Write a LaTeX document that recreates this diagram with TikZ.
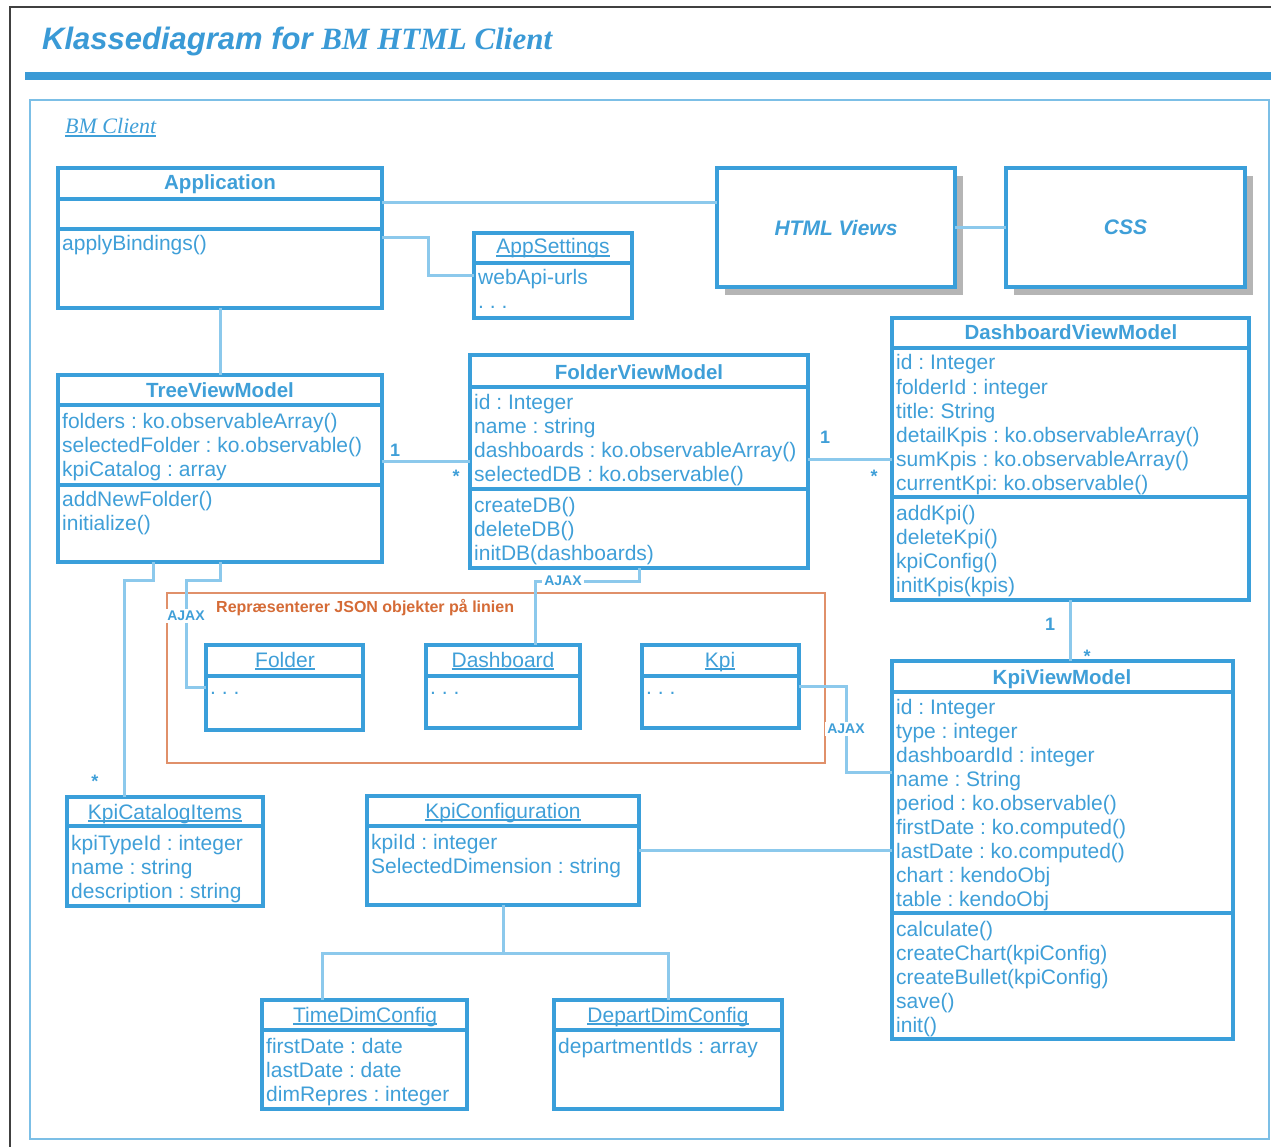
\documentclass[tikz,border=0pt]{standalone}
\usepackage{fontspec}
\setmainfont{Liberation Sans}
\newfontfamily\serifx{Liberation Serif}
\usetikzlibrary{shadows}
\frenchspacing

\definecolor{titlec}{HTML}{3A9AD6}
\definecolor{boxc}{HTML}{3A9FDA}
\definecolor{ink}{HTML}{3F9FD8}
\definecolor{linec}{HTML}{8CC9EC}
\definecolor{framec}{HTML}{7CBFE6}
\definecolor{orangec}{HTML}{E0906A}
\definecolor{orangetxt}{HTML}{D56B36}
\definecolor{shadowc}{HTML}{B5B5B5}

% underline sitting just below the baseline
\newcommand\ulname[1]{\setbox0\hbox{#1}\rlap{\rule[-2.6pt]{\wd0}{1.3pt}}\box0}

\tikzset{
  box/.style={draw=boxc, line width=3.2pt, fill=white, rectangle, inner sep=0pt,
    outer sep=0pt, anchor=north west},
  shadowbox/.style={box, general shadow={fill=shadowc, shadow xshift=8pt, shadow yshift=-8pt}},
  boxline/.style={draw=boxc, line width=3.2pt},
  conn/.style={draw=linec, line width=3pt},
  txt/.style={text=ink, font=\fontsize{21}{24}\selectfont, inner sep=0pt, anchor=base west},
  hdr/.style={text=ink, font=\fontsize{20.5}{24}\selectfont\bfseries, inner sep=0pt, anchor=base},
  obj/.style={text=ink, font=\fontsize{21}{24}\selectfont, inner sep=0pt, anchor=base},
  ajax/.style={text=ink, fill=white, font=\fontsize{14}{14}\selectfont\bfseries, inner sep=2pt},
  mult/.style={text=ink, font=\fontsize{18}{18}\selectfont\bfseries, inner sep=0pt},
}

% class box: name, x1, y1, x2, y2
\newcommand\umlbox[5]{\node[box, minimum width={#4-#2}, minimum height={#5-#3}] (#1) at (#2,#3) {};}
% compartment separator: box name, y
\newcommand\compsep[2]{\draw[boxline] (#1.west |- 0,#2) -- (#1.east |- 0,#2);}
% text lines: prefix, x, first baseline, list
\newcommand\textlines[4]{\foreach \t [count=\i from 0] in {#4} {\node[txt] (#1\i) at (#2,{#3+24*\i}) {\t};}}

\begin{document}
\begin{tikzpicture}[x=1pt,y=-1pt]
\useasboundingbox (0,0) rectangle (1271,1147);
\fill[white] (0,0) rectangle (1271,1147);

% page frame, title and rule
\draw[draw=black!75, line width=1.5pt] (10,1150) -- (10,7) -- (1275,7);
\node[anchor=base west, text=titlec, inner sep=0pt] (title) at (42,50)
  {\fontsize{31}{31}\selectfont\bfseries\itshape Klassediagram for {\serifx BM HTML Client}};
\fill[titlec] (25,72) rectangle (1275,80);

% package frame
\draw[draw=framec, line width=2.5pt] (30,100) rectangle (1269,1139);
\node[anchor=base west, text=ink, inner sep=0pt] (pkg) at (65,134)
  {\fontsize{22}{22}\selectfont\serifx\itshape\ulname{BM Client}};

% JSON object region
\draw[draw=orangec, line width=2.5pt] (167,593) rectangle (825,763);
\node[anchor=base west, text=orangetxt, inner sep=0pt] (jsonnote) at (216,612)
  {\fontsize{16}{16}\selectfont\bfseries Repræsenterer JSON objekter på linien};

% ---------- boxes ----------
\umlbox{app}{58}{168}{382}{308}
\compsep{app}{199} \compsep{app}{229}
\node[hdr] (apph) at (220,190) {Application};
\textlines{appm}{62}{251}{applyBindings()}

\umlbox{appset}{474}{233}{632}{318}
\compsep{appset}{263}
\node[obj] (appseth) at (553,254) {\ulname{AppSettings}};
\textlines{appseta}{478}{285}{webApi-urls,. . .}

\node[shadowbox, minimum width=238, minimum height=119] (html) at (717,168) {};
\node[text=ink, font=\fontsize{21}{24}\selectfont\bfseries\itshape] (htmlt) at (html.center) {HTML Views};
\node[shadowbox, minimum width=239, minimum height=119] (css) at (1006,168) {};
\node[text=ink, font=\fontsize{21}{24}\selectfont\bfseries\itshape] (csst) at (css.center) {CSS};

\umlbox{tree}{58}{375}{382}{562}
\compsep{tree}{405} \compsep{tree}{485}
\node[hdr] (treeh) at (220,397) {TreeViewModel};
\textlines{treea}{62}{428}{folders : ko.observableArray(),selectedFolder : ko.observable(),kpiCatalog : array}
\textlines{treem}{62}{506}{addNewFolder(),initialize()}

\umlbox{fold}{470}{355}{808}{568}
\compsep{fold}{387} \compsep{fold}{489}
\node[hdr] (foldh) at (639,379) {FolderViewModel};
\textlines{folda}{474}{409}{id : Integer,name : string,dashboards : ko.observableArray(),selectedDB : ko.observable()}
\textlines{foldm}{474}{512}{createDB(),deleteDB(),initDB(dashboards)}

\umlbox{dash}{892}{318}{1249}{600}
\compsep{dash}{348} \compsep{dash}{497}
\node[hdr] (dashh) at (1071,340) {DashboardViewModel};
\textlines{dasha}{896}{370}{id : Integer,folderId : integer,title: String,detailKpis : ko.observableArray(),sumKpis : ko.observableArray(),currentKpi: ko.observable()}
\textlines{dashm}{896}{520}{addKpi(),deleteKpi(),kpiConfig(),initKpis(kpis)}

\umlbox{kvm}{892}{661}{1233}{1039}
\compsep{kvm}{692} \compsep{kvm}{913}
\node[hdr] (kvmh) at (1062,684) {KpiViewModel};
\textlines{kvma}{896}{714}{id : Integer,type : integer,dashboardId : integer,name : String,period : ko.observable(),firstDate : ko.computed(),lastDate : ko.computed(),chart : kendoObj,table : kendoObj}
\textlines{kvmm}{896}{936}{calculate(),createChart(kpiConfig),createBullet(kpiConfig),save(),init()}

\umlbox{folderobj}{206}{645}{363}{730}
\compsep{folderobj}{676}
\node[obj] (folderobjh) at (285,667) {\ulname{Folder}};
\textlines{folderobja}{210}{694}{. . .}

\umlbox{dashobj}{426}{645}{580}{728}
\compsep{dashobj}{676}
\node[obj] (dashobjh) at (503,667) {\ulname{Dashboard}};
\textlines{dashobja}{430}{694}{. . .}

\umlbox{kpiobj}{642}{645}{799}{728}
\compsep{kpiobj}{676}
\node[obj] (kpiobjh) at (720,667) {\ulname{Kpi}};
\textlines{kpiobja}{646}{694}{. . .}

\umlbox{cat}{67}{797}{263}{906}
\compsep{cat}{826}
\node[obj] (cath) at (165,819) {\ulname{KpiCatalogItems}};
\textlines{cata}{71}{850}{kpiTypeId : integer,name : string,description : string}

\umlbox{conf}{367}{796}{639}{905}
\compsep{conf}{826}
\node[obj] (confh) at (503,818) {\ulname{KpiConfiguration}};
\textlines{confa}{371}{849}{kpiId : integer,SelectedDimension : string}

\umlbox{time}{262}{1000}{467}{1109}
\compsep{time}{1030}
\node[obj] (timeh) at (365,1022) {\ulname{TimeDimConfig}};
\textlines{timea}{266}{1053}{firstDate : date,lastDate : date,dimRepres : integer}

\umlbox{dept}{554}{1000}{782}{1109}
\compsep{dept}{1030}
\node[obj] (depth) at (668,1022) {\ulname{DepartDimConfig}};
\textlines{depta}{558}{1053}{departmentIds : array}

% ---------- connectors ----------
\draw[conn] ([yshift=-35pt]app.north east) -- ([yshift=-35pt]html.north west);
\draw[conn] (html.east) -- (css.west);
\draw[conn] ([yshift=-70pt]app.north east) -- ++(46,0) |- (appset.west);
\draw[conn] (app.south) -- (tree.north);
\draw[conn] (tree.east |- fold.west) -- (fold.west);
\draw[conn] (fold.east |- dash.west) -- (dash.west);
\draw[conn] (dash.south) -- (dash.south |- kvm.north);
\draw[conn] (tree.south) -- ++(0,18) -| ([xshift=-20pt]folderobj.west) -- (folderobj.west);
\draw[conn] ([xshift=-67pt]tree.south) -- ++(0,18) -| ([xshift=-41pt]cat.north);
\draw[conn] (fold.south) -- ++(0,13) -| ([xshift=32pt]dashobj.north);
\draw[conn] (kpiobj.east) -- ++(47,0) |- ([yshift=-111pt]kvm.north west);
\draw[conn] (conf.east) -- (kvm.west |- conf.east);
\draw[conn] (conf.south) -- ++(0,48) coordinate (split);
\draw[conn] (split) -| ([xshift=-42pt]time.north);
\draw[conn] (split) -| (dept.north);

% ---------- labels on connectors ----------
\node[ajax] (ajax1) at (186,616) {AJAX};
\node[ajax] (ajax2) at (563,581) {AJAX};
\node[ajax] (ajax3) at (846,729) {AJAX};

\node[mult] (m1) at (395,450) {1};
\node[mult] (m2) at (456,476) {*};
\node[mult] (m3) at (825,437) {1};
\node[mult] (m4) at (874,476) {*};
\node[mult] (m5) at (1050,624) {1};
\node[mult] (m6) at (1087,656) {*};
\node[mult] (m7) at (95,781) {*};
\end{tikzpicture}
\end{document}
